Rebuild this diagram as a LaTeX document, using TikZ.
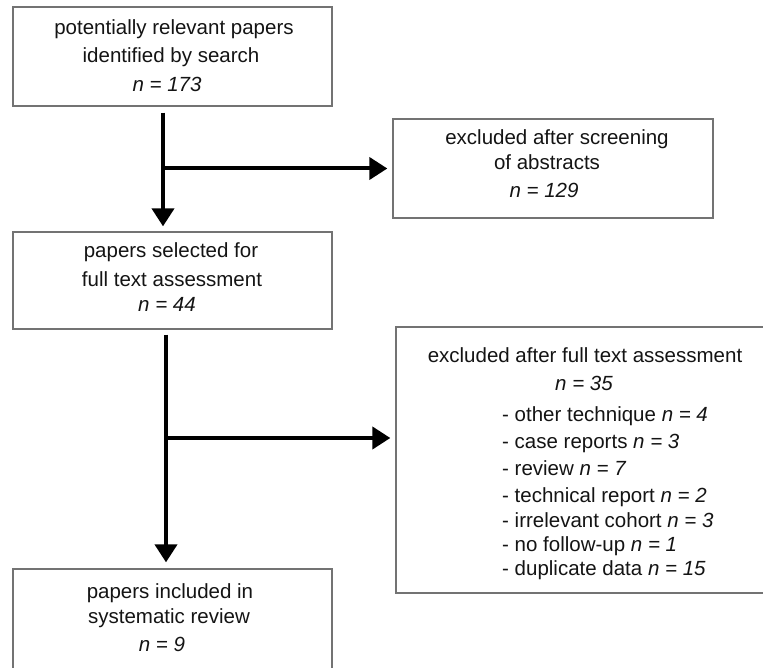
\documentclass[tikz,border=0pt]{standalone}
\usepackage{fontspec}
\setmainfont{Liberation Sans}
\usetikzlibrary{arrows.meta}
\begin{document}
\begin{tikzpicture}[x=1pt,y=-1pt,
  box/.style={draw=black!55, line width=1.3pt, inner sep=0pt, rectangle},
  txt/.style={anchor=base, inner sep=0pt, text=black!92, font=\fontsize{20.5}{24}\selectfont},
  arr/.style={line width=4pt, -{Triangle[length=18pt,width=22pt]}}]
\useasboundingbox (0,0) rectangle (763,668);
\clip (0,0) rectangle (763,668);
% boxes
\node[box, minimum width=319pt, minimum height=99pt] (b1) at (172.5,56.5) {};
\node[box, minimum width=320pt, minimum height=99pt] (e1) at (553,168.5) {};
\node[box, minimum width=319pt, minimum height=97pt] (b2) at (172.5,280.5) {};
\node[box, minimum width=400pt, minimum height=266pt] (e2) at (596,460) {};
\node[box, minimum width=319pt, minimum height=140pt] (b4) at (172.5,639) {};
% texts
\node[txt] (t11) at (174,35) {potentially relevant papers};
\node[txt] (t12) at (171,63) {identified by search};
\node[txt] (t13) at (167,92) {\textit{n = 173}};
\node[txt] (t21) at (557,145) {excluded after screening};
\node[txt] (t22) at (547,170) {of abstracts};
\node[txt] (t23) at (544,198) {\textit{n = 129}};
\node[txt] (t31) at (171,258) {papers selected for};
\node[txt] (t32) at (172,287) {full text assessment};
\node[txt] (t33) at (167,312) {\textit{n = 44}};
\node[txt] (t41) at (585,362) {excluded after full text assessment};
\node[txt] (t42) at (584,390) {\textit{n = 35}};
\node[txt,anchor=base west] (l1) at (502,421) {- other technique \textit{n = 4}};
\node[txt,anchor=base west] (l2) at (502,448) {- case reports \textit{n = 3}};
\node[txt,anchor=base west] (l3) at (502,475) {- review \textit{n = 7}};
\node[txt,anchor=base west] (l4) at (502,502) {- technical report \textit{n = 2}};
\node[txt,anchor=base west] (l5) at (502,527) {- irrelevant cohort \textit{n = 3}};
\node[txt,anchor=base west] (l6) at (502,551) {- no follow-up \textit{n = 1}};
\node[txt,anchor=base west] (l7) at (502,575) {- duplicate data \textit{n = 15}};
\node[txt] (t51) at (170,598) {papers included in};
\node[txt] (t52) at (169,623) {systematic review};
\node[txt] (t53) at (162,651) {\textit{n = 9}};
% connectors
\coordinate (s1) at ([xshift=-9.5pt,yshift=-6pt]b1.south);
\coordinate (j1) at (s1 |- e1.west);
\draw[arr] (s1) -- ([yshift=5pt]s1 |- b2.north);
\draw[arr] (j1) -- ([xshift=-5pt]e1.west);
\coordinate (s2) at ([xshift=-6.5pt,yshift=-5pt]b2.south);
\coordinate (j2) at (s2 |- 0,438);
\draw[arr] (s2) -- ([yshift=6pt]s2 |- b4.north);
\draw[arr] (j2) -- ([xshift=-5pt]j2 -| e2.west);
\end{tikzpicture}
\end{document}
